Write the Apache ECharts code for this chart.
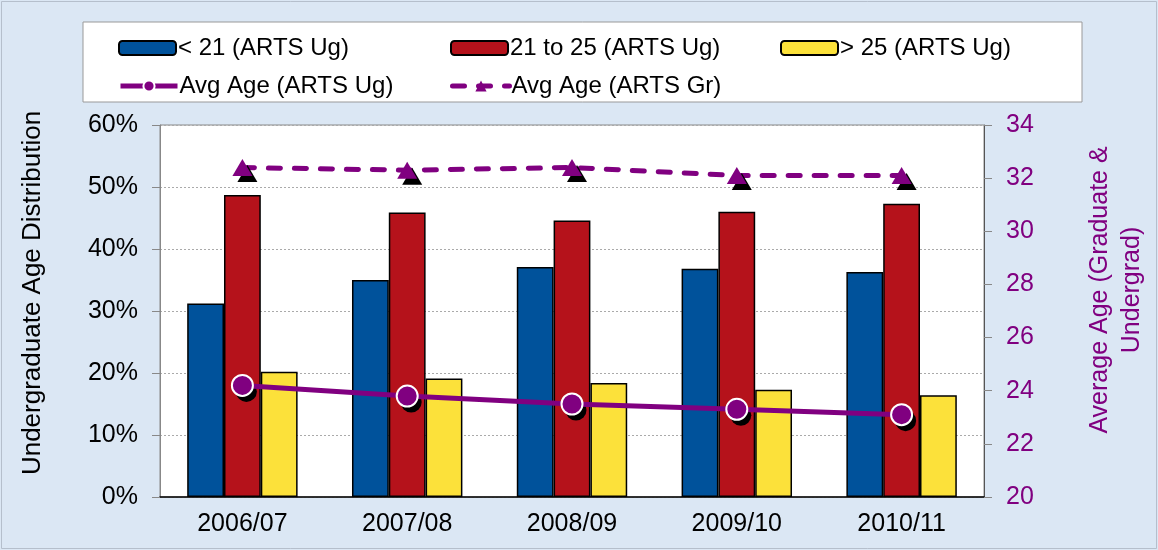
<!DOCTYPE html>
<html>
<head>
<meta charset="utf-8">
<script src="https://cdn.jsdelivr.net/npm/echarts@6/dist/echarts.min.js"></script>
<style>
html, body { margin: 0; padding: 0; background: #dbe7f4; }
#chart { width: 1158px; height: 550px; }
</style>
</head>
<body>
<div id="chart"></div>
<script>
// data
var years = ['2006/07', '2007/08', '2008/09', '2009/10', '2010/11'];
var under21 = [31.2, 35.0, 37.1, 36.8, 36.3];
var from21to25 = [48.7, 45.9, 44.6, 46.0, 47.3];
var over25 = [20.2, 19.1, 18.4, 17.3, 16.4];
var avgAgeUg = [24.2, 23.8, 23.5, 23.3, 23.1];
var avgAgeGr = [32.4, 32.3, 32.4, 32.1, 32.1];
// axis ranges
var pctAxis = [0, 60, 10];
var ageAxis = [20, 34, 2];

var font = '"Liberation Sans", Arial, sans-serif';
var purple = '#800080';

function barSeries(name, data, color) {
    return {
        name: name,
        type: 'bar',
        data: data,
        barGap: '0%',
        barCategoryGap: '33%',
        itemStyle: { color: color, borderColor: '#000', borderWidth: 1.5 }
    };
}

// one legend per entry, so they sit where the picture has them
var legendPos = [
    ['< 21 (ARTS Ug)', 118, 36],
    ['21 to 25 (ARTS Ug)', 450, 36],
    ['> 25 (ARTS Ug)', 780, 36],
    ['Avg Age (ARTS Ug)', 118, 74],
    ['Avg Age (ARTS Gr)', 450, 74]
];
var legends = legendPos.map(function(p, i) {
    var lg = {
        data: [p[0]],
        left: p[1],
        top: p[2],
        padding: 0,
        itemWidth: 57,
        itemHeight: 14,
        textStyle: { fontFamily: font, fontSize: 24, color: '#000', padding: [0, 0, 0, -3] }
    };
    if (i >= 3) {
        lg.lineStyle = { width: 5 };
        lg.itemStyle = { shadowOffsetX: 0, shadowOffsetY: 0, shadowColor: 'transparent' };
    }
    return lg;
});

var chart = echarts.init(document.getElementById('chart'));
var option = {
    backgroundColor: '#dbe7f4',
    animation: false,
    textStyle: { fontFamily: font },
    graphic: [
        {
            type: 'rect',
            shape: { x: 83, y: 22, width: 999, height: 80 },
            style: { fill: '#fff', stroke: '#999', lineWidth: 1 },
            z: -1
        },
        {
            type: 'rect',
            shape: { x: 1.5, y: 1.5, width: 1155, height: 547 },
            style: { fill: 'none', stroke: '#b5bfcc', lineWidth: 1 },
            z: -1
        }
    ],
    legend: legends,
    grid: {
        left: 160,
        right: 174,
        top: 125,
        bottom: 53,
        show: true,
        backgroundColor: '#fff',
        borderColor: '#888',
        borderWidth: 1
    },
    xAxis: {
        type: 'category',
        data: years,
        axisLine: { lineStyle: { color: '#000', width: 1.5 } },
        axisTick: { length: 8, lineStyle: { color: '#888' } },
        axisLabel: { fontSize: 25, color: '#000', margin: 15 }
    },
    yAxis: [
        {
            type: 'value',
            min: pctAxis[0],
            max: pctAxis[1],
            interval: pctAxis[2],
            name: 'Undergraduate Age Distribution',
            nameLocation: 'middle',
            nameGap: 114,
            nameRotate: 90,
            nameTextStyle: { fontSize: 26, color: '#000', padding: [0, 0, 0, 36] },
            axisLine: { show: true, lineStyle: { color: '#888' } },
            axisTick: { show: true, length: 8, lineStyle: { color: '#888' } },
            axisLabel: { fontSize: 25, color: '#000', margin: 22, formatter: '{value}%' },
            splitLine: { lineStyle: { color: '#aaa', type: [2, 2] } }
        },
        {
            type: 'value',
            position: 'right',
            min: ageAxis[0],
            max: ageAxis[1],
            interval: ageAxis[2],
            name: 'Average Age (Graduate &\nUndergrad)',
            nameLocation: 'middle',
            nameGap: 100,
            nameRotate: 90,
            nameTextStyle: { fontSize: 25, color: purple, lineHeight: 32, align: 'center', padding: [0, 0, 0, 42] },
            axisLine: { show: true, lineStyle: { color: '#555' } },
            axisTick: { show: true, length: 8, lineStyle: { color: '#888' } },
            axisLabel: { fontSize: 25, color: purple, margin: 22 },
            splitLine: { show: false }
        }
    ],
    series: [
        barSeries('< 21 (ARTS Ug)', under21, '#00529b'),
        barSeries('21 to 25 (ARTS Ug)', from21to25, '#b5121b'),
        barSeries('> 25 (ARTS Ug)', over25, '#fce13a'),
        {
            // black drop shadow under the round markers
            name: 'ug-shadow',
            type: 'line',
            yAxisIndex: 1,
            data: avgAgeUg,
            symbol: 'circle',
            symbolSize: 21,
            symbolOffset: [4, 6],
            lineStyle: { opacity: 0 },
            itemStyle: { color: '#000' },
            silent: true,
            z: 4
        },
        {
            name: 'Avg Age (ARTS Ug)',
            type: 'line',
            yAxisIndex: 1,
            data: avgAgeUg,
            symbol: 'circle',
            symbolSize: 21,
            lineStyle: { color: purple, width: 5 },
            itemStyle: { color: purple, borderColor: '#fff', borderWidth: 2 },
            z: 5
        },
        {
            name: 'Avg Age (ARTS Gr)',
            type: 'line',
            yAxisIndex: 1,
            data: avgAgeGr,
            symbol: 'triangle',
            symbolSize: [20, 17],
            lineStyle: { color: purple, width: 5, type: [12, 14], cap: 'round' },
            itemStyle: {
                color: purple,
                shadowColor: '#000',
                shadowBlur: 0,
                shadowOffsetX: 5,
                shadowOffsetY: 6
            },
            z: 5
        }
    ]
};
chart.setOption(option);
</script>
</body>
</html>
